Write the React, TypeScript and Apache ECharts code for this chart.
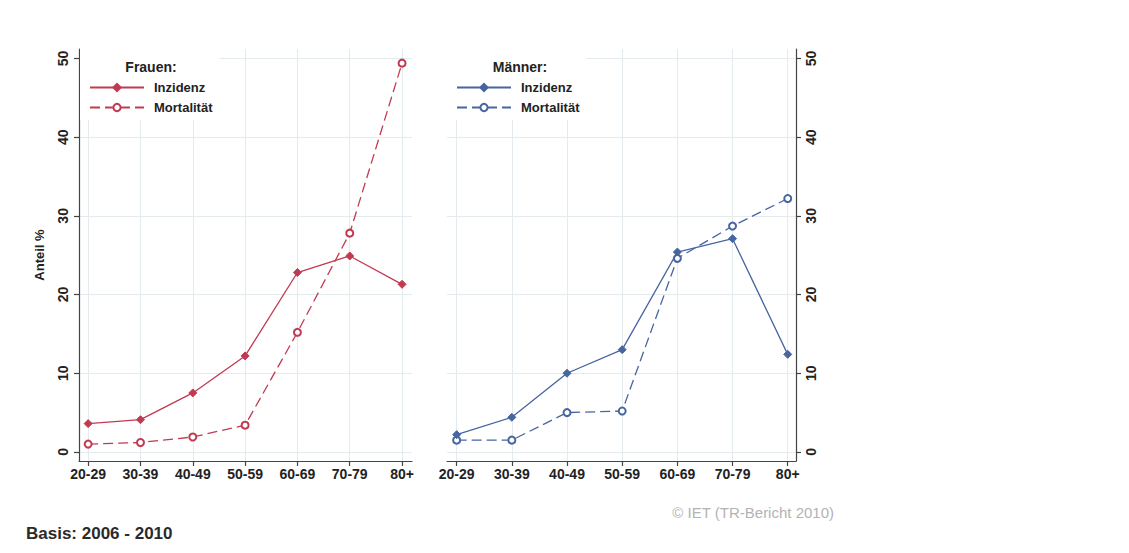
import React, { useEffect, useRef } from "react";
import * as echarts from "echarts";

const ageGroups = ["20-29", "30-39", "40-49", "50-59", "60-69", "70-79", "80+"];
const frauenInzidenz = [3.6, 4.1, 7.5, 12.2, 22.8, 24.9, 21.3];
const frauenMortalitaet = [1.0, 1.2, 1.9, 3.4, 15.2, 27.8, 49.4];
const maennerInzidenz = [2.2, 4.4, 10.0, 13.0, 25.4, 27.1, 12.4];
const maennerMortalitaet = [1.5, 1.5, 5.0, 5.2, 24.6, 28.7, 32.2];
const yTicks = [0, 10, 20, 30, 40, 50];
const xTicks = ageGroups.map((_, i) => i);

const RED = "#c23a51";
const BLUE = "#4665a1";
const FONT = "'Liberation Sans', Arial, sans-serif";
const GRIDC = "#e3ebee";
const AXC = "#444";

function xAxis(gridIndex: number, max: number) {
  return {
    type: "value",
    gridIndex,
    min: -0.175,
    max,
    axisLine: { show: true, onZero: false, lineStyle: { color: AXC, width: 1.2 } },
    axisTick: { show: true, length: 5, customValues: xTicks, lineStyle: { color: AXC, width: 1.2 } },
    axisLabel: {
      customValues: xTicks,
      formatter: (v: number) => ageGroups[Math.round(v)] ?? "",
      fontFamily: FONT,
      fontSize: 14,
      fontWeight: "bold",
      color: "#222",
      margin: 6,
    },
    splitLine: { show: true, customValues: xTicks, lineStyle: { color: GRIDC, width: 1 } },
  };
}

function yAxis(gridIndex: number, position: string, withName: boolean) {
  return {
    type: "value",
    gridIndex,
    position,
    min: -1.15,
    max: 51.2,
    name: withName ? "Anteil %" : "",
    nameLocation: "middle",
    nameGap: 33,
    nameRotate: 90,
    nameTextStyle: { fontFamily: FONT, fontSize: 13, fontWeight: "bold", color: "#222" },
    axisLine: { show: true, onZero: false, lineStyle: { color: AXC, width: 1.2 } },
    axisTick: { show: true, length: 5, customValues: yTicks, lineStyle: { color: AXC, width: 1.2 } },
    axisLabel: {
      customValues: yTicks,
      rotate: 90,
      fontFamily: FONT,
      fontSize: 14,
      fontWeight: "bold",
      color: "#222",
      margin: position === "left" ? 9 : 8,
    },
    splitLine: { show: true, customValues: yTicks, lineStyle: { color: GRIDC, width: 1 } },
  };
}

function lineSeries(name: string, values: number[], color: string, idx: number, dashed: boolean) {
  return {
    type: "line",
    name,
    xAxisIndex: idx,
    yAxisIndex: idx,
    data: values.map((v, i) => [i, v]),
    symbol: dashed ? "emptyCircle" : "diamond",
    symbolSize: dashed ? 7 : 8,
    color,
    itemStyle: { color, borderColor: color, borderWidth: 1 },
    lineStyle: { color, width: 1.3, type: dashed ? [10, 5] : "solid" },
    z: dashed ? 3 : 4,
  };
}

function legend(left: number, names: string[]) {
  return {
    orient: "vertical",
    left,
    top: 49,
    padding: [32, 7, 6, 9],
    backgroundColor: "#ffffff",
    itemWidth: 54,
    itemHeight: 9,
    itemGap: 7,
    data: names,
    formatter: (n: string) => n.replace(/^(Frauen|Männer) /, ""),
    textStyle: { fontFamily: FONT, fontSize: 13, fontWeight: "bold", color: "#222", padding: [0, 0, 0, 5] },
    selectedMode: false,
  };
}

export default function App() {
  const ref = useRef<HTMLDivElement>(null);
  useEffect(() => {
    if (!ref.current) return;
    const chart = echarts.init(ref.current, undefined, { renderer: "svg" });
    chart.setOption({
      animation: false,
      backgroundColor: "#ffffff",
      grid: [
        { left: 79, top: 49, width: 333, height: 412 },
        { left: 447, top: 49, width: 349, height: 412 },
      ],
      xAxis: [xAxis(0, 6.19), xAxis(1, 6.15)],
      yAxis: [yAxis(0, "left", true), yAxis(1, "right", false)],
      legend: [
        legend(80, ["Frauen Inzidenz", "Frauen Mortalität"]),
        legend(447, ["Männer Inzidenz", "Männer Mortalität"]),
      ],
      series: [
        lineSeries("Frauen Inzidenz", frauenInzidenz, RED, 0, false),
        lineSeries("Frauen Mortalität", frauenMortalitaet, RED, 0, true),
        lineSeries("Männer Inzidenz", maennerInzidenz, BLUE, 1, false),
        lineSeries("Männer Mortalität", maennerMortalitaet, BLUE, 1, true),
      ],
      graphic: [
        {
          type: "text",
          x: 151,
          y: 67,
          z: 100,
          style: { text: "Frauen:", fontFamily: FONT, fontSize: 14, fontWeight: "bold", fill: "#222", align: "center", verticalAlign: "middle" },
        },
        {
          type: "text",
          x: 520,
          y: 67,
          z: 100,
          style: { text: "Männer:", fontFamily: FONT, fontSize: 14, fontWeight: "bold", fill: "#222", align: "center", verticalAlign: "middle" },
        },
        {
          type: "text",
          x: 834,
          y: 512,
          z: 100,
          style: { text: "© IET (TR-Bericht 2010)", fontFamily: FONT, fontSize: 15, fill: "#b3b3b3", align: "right", verticalAlign: "middle" },
        },
        {
          type: "text",
          x: 26,
          y: 533,
          z: 100,
          style: { text: "Basis: 2006 - 2010", fontFamily: FONT, fontSize: 17, fontWeight: "bold", fill: "#2a2a2a", align: "left", verticalAlign: "middle" },
        },
      ],
    });
    return () => chart.dispose();
  }, []);
  return (
    <div
      ref={ref}
      style={{ position: "fixed", left: 0, top: 0, width: 1129, height: 553, background: "#fff" }}
    />
  );
}
